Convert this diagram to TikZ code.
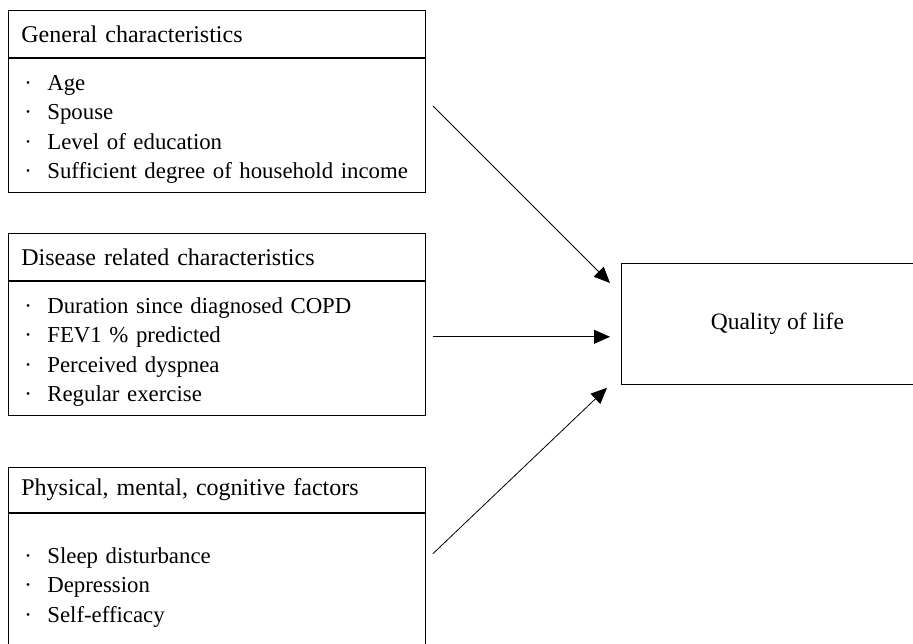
\documentclass[tikz,border=0pt]{standalone}
\usepackage{fontspec}
\setmainfont{Liberation Serif}
\usetikzlibrary{arrows.meta,positioning}
\tikzstyle{arrow} = [line width=0.8pt,-{Triangle[length=16pt,width=14pt]}]
\tikzstyle{head} = [draw, line width=0.8pt, anchor=north west, minimum width=417pt, minimum height=47pt, inner xsep=13pt, text width=391pt, align=left, font=\fontsize{24}{28}\selectfont]
\tikzstyle{body} = [draw, line width=0.8pt, minimum width=417pt, inner xsep=16pt, text width=385pt, align=left, font=\fontsize{22.8}{29.5}\selectfont]
\newcommand{\itm}[1]{\rule{0pt}{24pt}\makebox[23pt][l]{·}#1}

\begin{document}
\begin{tikzpicture}[x=1pt,y=-1pt]
    \useasboundingbox (0,0) rectangle (913,643);
    \clip (0,0) rectangle (913,643);

    % left boxes
    \node[head] (genhead) at (8,10) {General characteristics};
    \node[body, minimum height=134pt, below=0pt of genhead] (genbody)
        {\itm{Age}\\ \itm{Spouse}\\ \itm{Level of education}\\ \itm{Sufficient degree of household income}};

    \node[head] (dishead) at (8,233) {Disease related characteristics};
    \node[body, minimum height=134pt, below=0pt of dishead] (disbody)
        {\itm{Duration since diagnosed COPD}\\ \itm{FEV1 \% predicted}\\ \itm{Perceived dyspnea}\\ \itm{Regular exercise}};

    \node[head, minimum height=45pt] (phyhead) at (8,467) {Physical, mental, cognitive factors};
    \node[body, minimum height=140pt, below=0pt of phyhead] (phybody)
        {\itm{Sleep disturbance}\\ \itm{Depression}\\ \itm{Self-efficacy}};

    % outcome
    \node[draw, line width=0.8pt, anchor=north west, minimum width=312pt, minimum height=121pt,
          font=\fontsize{23.5}{27}\selectfont] (qol) at (621,263) {Quality of life};

    \draw[arrow] ([shift={(7,48)}]genbody.north east) -- ([shift={(-11,20)}]qol.north west);
    \draw[arrow] ([shift={(7,56)}]disbody.north east) coordinate (a2) -- ([xshift=-11pt]a2 -| qol.west);
    \draw[arrow] ([shift={(7,41)}]phybody.north east) -- ([shift={(-14,3)}]qol.south west);
\end{tikzpicture}
\end{document}
